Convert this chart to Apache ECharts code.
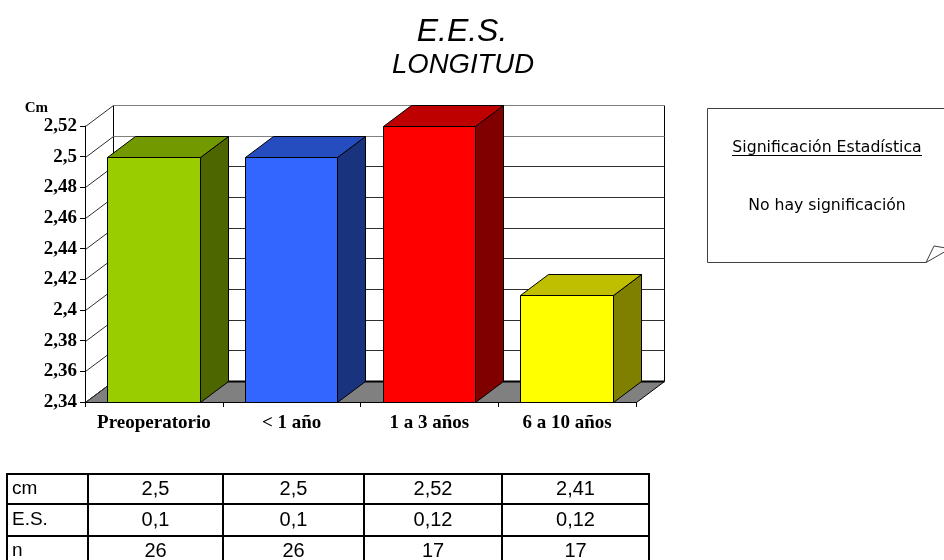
<!DOCTYPE html>
<html>
<head>
<meta charset="utf-8">
<style>html,body{margin:0;padding:0;background:#fff}#c{width:944px;height:560px}</style>
<script src="https://cdn.jsdelivr.net/npm/echarts@6/dist/echarts.min.js"></script>
</head>
<body>
<div id="c"></div>
<script>
const categories = ['Preoperatorio', '< 1 año', '1 a 3 años', '6 a 10 años'];
const cmValues = [2.5, 2.5, 2.52, 2.41];
const esValues = [0.1, 0.1, 0.12, 0.12];
const nValues = [26, 26, 17, 17];
const yTicks = [2.34, 2.36, 2.38, 2.4, 2.42, 2.44, 2.46, 2.48, 2.5, 2.52];
const faceColors = [
  ['#9acd00', '#739900', '#4d6600'],
  ['#3366ff', '#264dbf', '#1a337f'],
  ['#ff0000', '#bf0000', '#800000'],
  ['#ffff00', '#bfbf00', '#808000']
];
const tableRowLabels = ['cm', 'E.S.', 'n'];
const titleText = 'E.E.S.';
const subtitleText = 'LONGITUD';
const noteHeading = 'Significación Estadística';
const noteBody = 'No hay significación';

const dx = 28, dy = 21;
const yMin = 2.34, yMax = 2.52;
const comma = v => String(v).replace('.', ',');
const crispX = v => Math.floor(v) + 0.5;
const crispY = v => Math.round(v) + 0.5;

function poly(points, fill, stroke, lw) {
  return { type: 'polygon', shape: { points }, style: { fill, stroke: stroke || null, lineWidth: lw || 0 } };
}
function seg(x1, y1, x2, y2, stroke, lw) {
  return { type: 'line', shape: { x1, y1, x2, y2 }, style: { stroke, lineWidth: lw || 1 } };
}

function renderFrame(params, api) {
  const size = api.size([1, 0])[0];
  const a = api.coord([0, yMin]), t = api.coord([0, yMax]);
  const left = crispX(a[0] - size / 2), right = crispX(a[0] + size * 3.5);
  const base = crispY(a[1]), top = crispY(t[1]);
  return {
    type: 'group',
    children: [
      poly([[left, base], [right, base], [right + dx, base - dy], [left + dx, base - dy]], '#808080'),
      seg(left + dx, base - dy, right + dx, base - dy, '#000', 2),
      seg(left + dx, top - dy, left + dx, base - dy, '#000', 1),
      seg(right + dx, top - dy, right + dx, base - dy, '#000', 1),
      seg(left, base, left + dx, base - dy, '#000', 1),
      seg(right, base, right + dx, base - dy, '#000', 1)
    ]
  };
}

function renderGrid(params, api) {
  const p = api.coord([0, api.value(0)]);
  const size = api.size([1, 0])[0];
  const left = crispX(p[0] - size / 2), right = crispX(p[0] + size * 3.5);
  const y = crispY(p[1]);
  const v = api.value(0);
  const color = (v === yMax || v === 2.5) ? '#808080' : '#303030';
  const kids = [seg(left, y, left + dx, y - dy, '#303030', 1)];
  if (v !== yMin) kids.push(seg(left + dx, y - dy, right + dx, y - dy, color, 1));
  return { type: 'group', children: kids };
}

function renderBar(params, api) {
  const i = api.value(0);
  const topPt = api.coord([i, api.value(1)]);
  const basePt = api.coord([i, yMin]);
  const w = api.size([1, 0])[0] * 0.67;
  const l = crispX(topPt[0] - w / 2), r = crispX(topPt[0] + w / 2);
  const t = crispY(topPt[1]), b = crispY(basePt[1]);
  const c = faceColors[i];
  return {
    type: 'group',
    children: [
      poly([[r, t], [r + dx, t - dy], [r + dx, b - dy], [r, b]], c[2], '#000', 1),
      poly([[l, t], [l + dx, t - dy], [r + dx, t - dy], [r, t]], c[1], '#000', 1),
      poly([[l, t], [r, t], [r, b], [l, b]], c[0], '#000', 1)
    ]
  };
}

/* table, note and titles */
const tableX = [7, 88, 223, 364, 502, 649];
const tableY = [474, 504, 536];
const rowCenters = [489, 520, 551];
const tableBottom = 560;
const tableFont = '20px "Liberation Sans", Arial, sans-serif';
const tableRows = [cmValues.map(comma), esValues.map(comma), nValues.map(String)];
const tableGraphics = [];
tableX.forEach(x => tableGraphics.push({
  type: 'line', shape: { x1: x, y1: tableY[0] - 1, x2: x, y2: tableBottom }, style: { stroke: '#000', lineWidth: 2 }
}));
tableY.forEach(y => tableGraphics.push({
  type: 'line', shape: { x1: tableX[0] - 1, y1: y, x2: tableX[5] + 1, y2: y }, style: { stroke: '#000', lineWidth: 2 }
}));
tableRowLabels.forEach((lab, r) => {
  tableGraphics.push({
    type: 'text',
    style: { x: 12, y: rowCenters[r], text: lab, align: 'left', verticalAlign: 'middle', font: '19px "Liberation Sans", Arial, sans-serif', fill: '#000' }
  });
  tableRows[r].forEach((val, c) => tableGraphics.push({
    type: 'text',
    style: { x: (tableX[c + 1] + tableX[c + 2]) / 2, y: rowCenters[r], text: val, align: 'center', verticalAlign: 'middle', font: tableFont, fill: '#000' }
  }));
});

const noteFont = '15.7px "DejaVu Sans", Verdana, sans-serif';
const noteGraphics = [
  { type: 'polyline', shape: { points: [[946, 108.5], [707.5, 108.5], [707.5, 262.5], [926, 262.5]] }, style: { stroke: '#404040', lineWidth: 1, fill: null } },
  { type: 'polyline', shape: { points: [[946, 248], [934, 246], [926, 262.5], [946, 251]] }, style: { stroke: '#404040', lineWidth: 1, fill: null } },
  { type: 'text', style: { x: 827, y: 147.5, text: noteHeading, align: 'center', verticalAlign: 'middle', font: noteFont, fill: '#000' } },
  { type: 'line', shape: { x1: 732, y1: 155.5, x2: 922, y2: 155.5 }, style: { stroke: '#000', lineWidth: 1 } },
  { type: 'text', style: { x: 827, y: 205.5, text: noteBody, align: 'center', verticalAlign: 'middle', font: noteFont, fill: '#000' } }
];

const chart = echarts.init(document.getElementById('c'), null, { renderer: 'canvas' });
chart.setOption({
  backgroundColor: '#fff',
  animation: false,
  title: [
    { text: titleText, left: 457, top: 27, textAlign: 'center', textVerticalAlign: 'middle',
      textStyle: { fontFamily: '"Liberation Sans", Arial, sans-serif', fontStyle: 'italic', fontWeight: 'normal', fontSize: 32, color: '#000' } },
    { text: subtitleText, left: 458, top: 60, textAlign: 'center', textVerticalAlign: 'middle',
      textStyle: { fontFamily: '"Liberation Sans", Arial, sans-serif', fontStyle: 'italic', fontWeight: 'normal', fontSize: 27.5, color: '#000' } }
  ],
  grid: { left: 85, top: 126, width: 551, height: 276, containLabel: false },
  xAxis: {
    type: 'category',
    data: categories,
    z: 6,
    axisLine: { show: true, lineStyle: { color: '#000', width: 1 } },
    axisTick: { show: true, length: 5, alignWithLabel: false, lineStyle: { color: '#000' } },
    axisLabel: { interval: 0, margin: 12, color: '#000', fontFamily: '"Liberation Serif", "Times New Roman", serif', fontWeight: 'bold', fontSize: 19 }
  },
  yAxis: {
    type: 'value',
    min: yMin,
    max: yMax,
    interval: 0.02,
    name: 'Cm',
    nameLocation: 'end',
    nameGap: 10,
    nameTextStyle: { color: '#000', fontFamily: '"Liberation Serif", "Times New Roman", serif', fontWeight: 'bold', fontSize: 15, align: 'right', padding: [0, 37, 0, 0] },
    z: 6,
    axisLine: { show: true, lineStyle: { color: '#000', width: 1 } },
    axisTick: { show: true, length: 5, lineStyle: { color: '#000' } },
    splitLine: { show: false },
    axisLabel: { margin: 8, color: '#000', fontFamily: '"Liberation Serif", "Times New Roman", serif', fontWeight: 'bold', fontSize: 19, formatter: v => comma(+v.toFixed(2)) }
  },
  series: [
    { type: 'custom', z: 1, silent: true, clip: false, coordinateSystem: 'cartesian2d', data: [[0, yMin]], encode: { x: 0, y: 1 }, renderItem: renderFrame },
    { type: 'custom', z: 2, silent: true, clip: false, coordinateSystem: 'cartesian2d', data: yTicks.map(v => [v]), encode: { y: 0 }, renderItem: renderGrid },
    { type: 'custom', z: 3, silent: true, clip: false, coordinateSystem: 'cartesian2d', data: cmValues.map((v, i) => [i, v]), encode: { x: 0, y: 1 }, renderItem: renderBar }
  ],
  graphic: tableGraphics.concat(noteGraphics)
});
</script>
</body>
</html>
